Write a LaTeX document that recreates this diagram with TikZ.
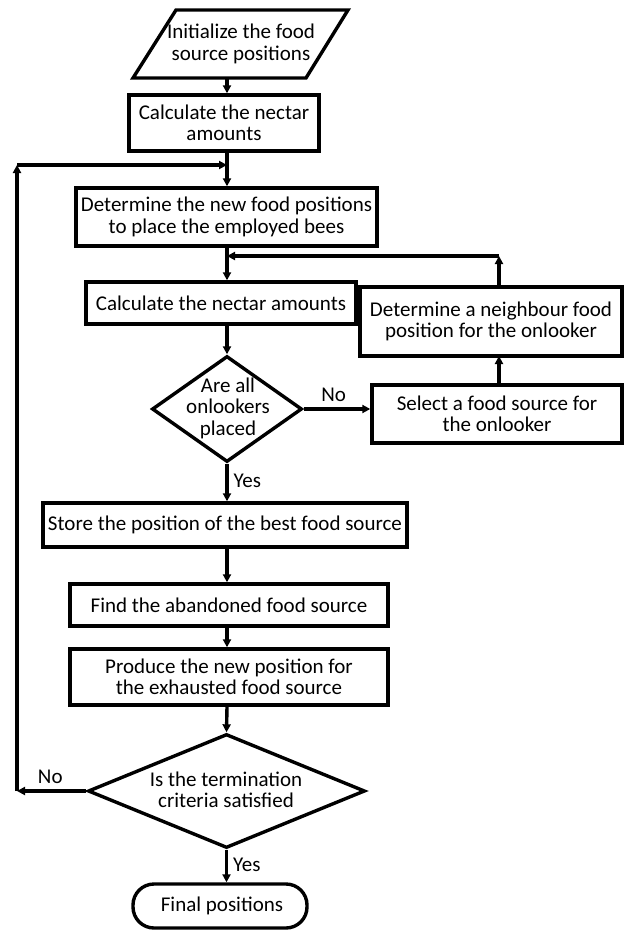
\documentclass[tikz,border=0pt]{standalone}
\usepackage{fontspec}
\setmainfont{Carlito}
\usetikzlibrary{arrows.meta,shapes.geometric}
\begin{document}
\begin{tikzpicture}[x=1pt,y=-1pt,
  line width=3.4pt,
  font=\fontsize{21}{21.5}\selectfont,
  proc/.style={draw, rectangle, inner sep=0pt, align=center},
  dia/.style={draw, diamond, inner sep=0pt},
  txt/.style={align=center, inner sep=0pt},
  arr/.style={-{Triangle[length=8pt,width=8pt]}}]
\useasboundingbox (0,0) rectangle (629,931);
% main vertical axis
\coordinate (mx) at (227,0);
% start parallelogram
\draw[line join=miter] (176,10) -- (348,10) -- (306,78) -- (133,78) -- cycle;
\node[txt] (para) at (241,44) {Initialize the food\\source positions};
\coordinate (paraS) at (227,78);
\node[proc, minimum width=190pt, minimum height=56pt] (b1) at (224,123) {Calculate the nectar\\amounts};
\node[proc, minimum width=301pt, minimum height=58pt] (b2) at (226.5,217) {Determine the new food positions\\to place the employed bees};
\node[proc, minimum width=270pt, minimum height=42pt] (b3) at (221,303) {Calculate the nectar amounts};
\node[proc, minimum width=262pt, minimum height=69pt] (b4) at (491,321.5) {Determine a neighbour food\\position for the onlooker};
\node[proc, minimum width=250pt, minimum height=58pt] (b5) at (497,414) {Select a food source for\\the onlooker};
\node[dia, minimum width=150pt, minimum height=106pt] (d1) at (227,409) {};
\node[txt] (d1t) at (228,408) {Are all\\onlookers\\placed};
\node[proc, minimum width=364pt, minimum height=44pt] (b6) at (225,525) {Store the position of the best food source};
\node[proc, minimum width=318pt, minimum height=42pt] (b7) at (229,605) {Find the abandoned food source};
\node[proc, minimum width=318pt, minimum height=56pt] (b8) at (229,677) {Produce the new position for\\the exhausted food source};
\node[dia, minimum width=277pt, minimum height=114pt] (d2) at (226.5,791) {};
\node[txt] (d2t) at (226,790) {Is the termination\\criteria satisfied};
\node[draw, rectangle, rounded corners=21pt, minimum width=174pt, minimum height=44pt, inner sep=0pt] (fin) at (220,906) {\hspace*{4pt}Final positions};
% junction coordinates
\coordinate (j1) at (227,165);
\coordinate (j2) at (227,256);
\coordinate (cL1) at (17,791);
\coordinate (cL2) at (17,165);
\coordinate (c4) at (499,256);
\coordinate (b4S) at (499,356);
\coordinate (b4N) at (499,287);
\coordinate (b5N) at (499,385);
% connectors
\draw[arr] (paraS) -- (b1.north -| mx);
\draw (b1.south -| mx) -- (j1);
\draw[arr] (j1) -- (b2.north -| mx);
\draw (b2.south -| mx) -- (j2);
\draw[arr] (j2) -- (b3.north -| mx);
\draw[arr] (b3.south -| mx) -- (d1.north);
\draw[arr] (d1.east) -- (d1.east -| b5.west) node[pos=0.45, above=6pt, inner sep=0pt] {No};
\draw[arr] (b5N) -- (b4S);
\draw[arr] (b4N) -- (c4);
\draw[arr] (c4) -- (j2);
\draw[arr] (d1.south) -- (b6.north -| d1.south) node[pos=0.45, right=5pt, inner sep=0pt] {Yes};
\draw[arr] (b6.south -| mx) -- (b7.north -| mx);
\draw[arr] (b7.south -| mx) -- (b8.north -| mx);
\draw[arr] (b8.south -| mx) -- (d2.north);
\draw[arr] (d2.west) -- (cL1) node[pos=0.52, above=6pt, inner sep=0pt] {No};
\draw[arr] (cL1) -- (cL2);
\draw[arr] (cL2) -- (j1);
\draw[arr] (d2.south) -- (fin.north -| d2.south) node[pos=0.45, right=5pt, inner sep=0pt] {Yes};
\end{tikzpicture}
\end{document}
